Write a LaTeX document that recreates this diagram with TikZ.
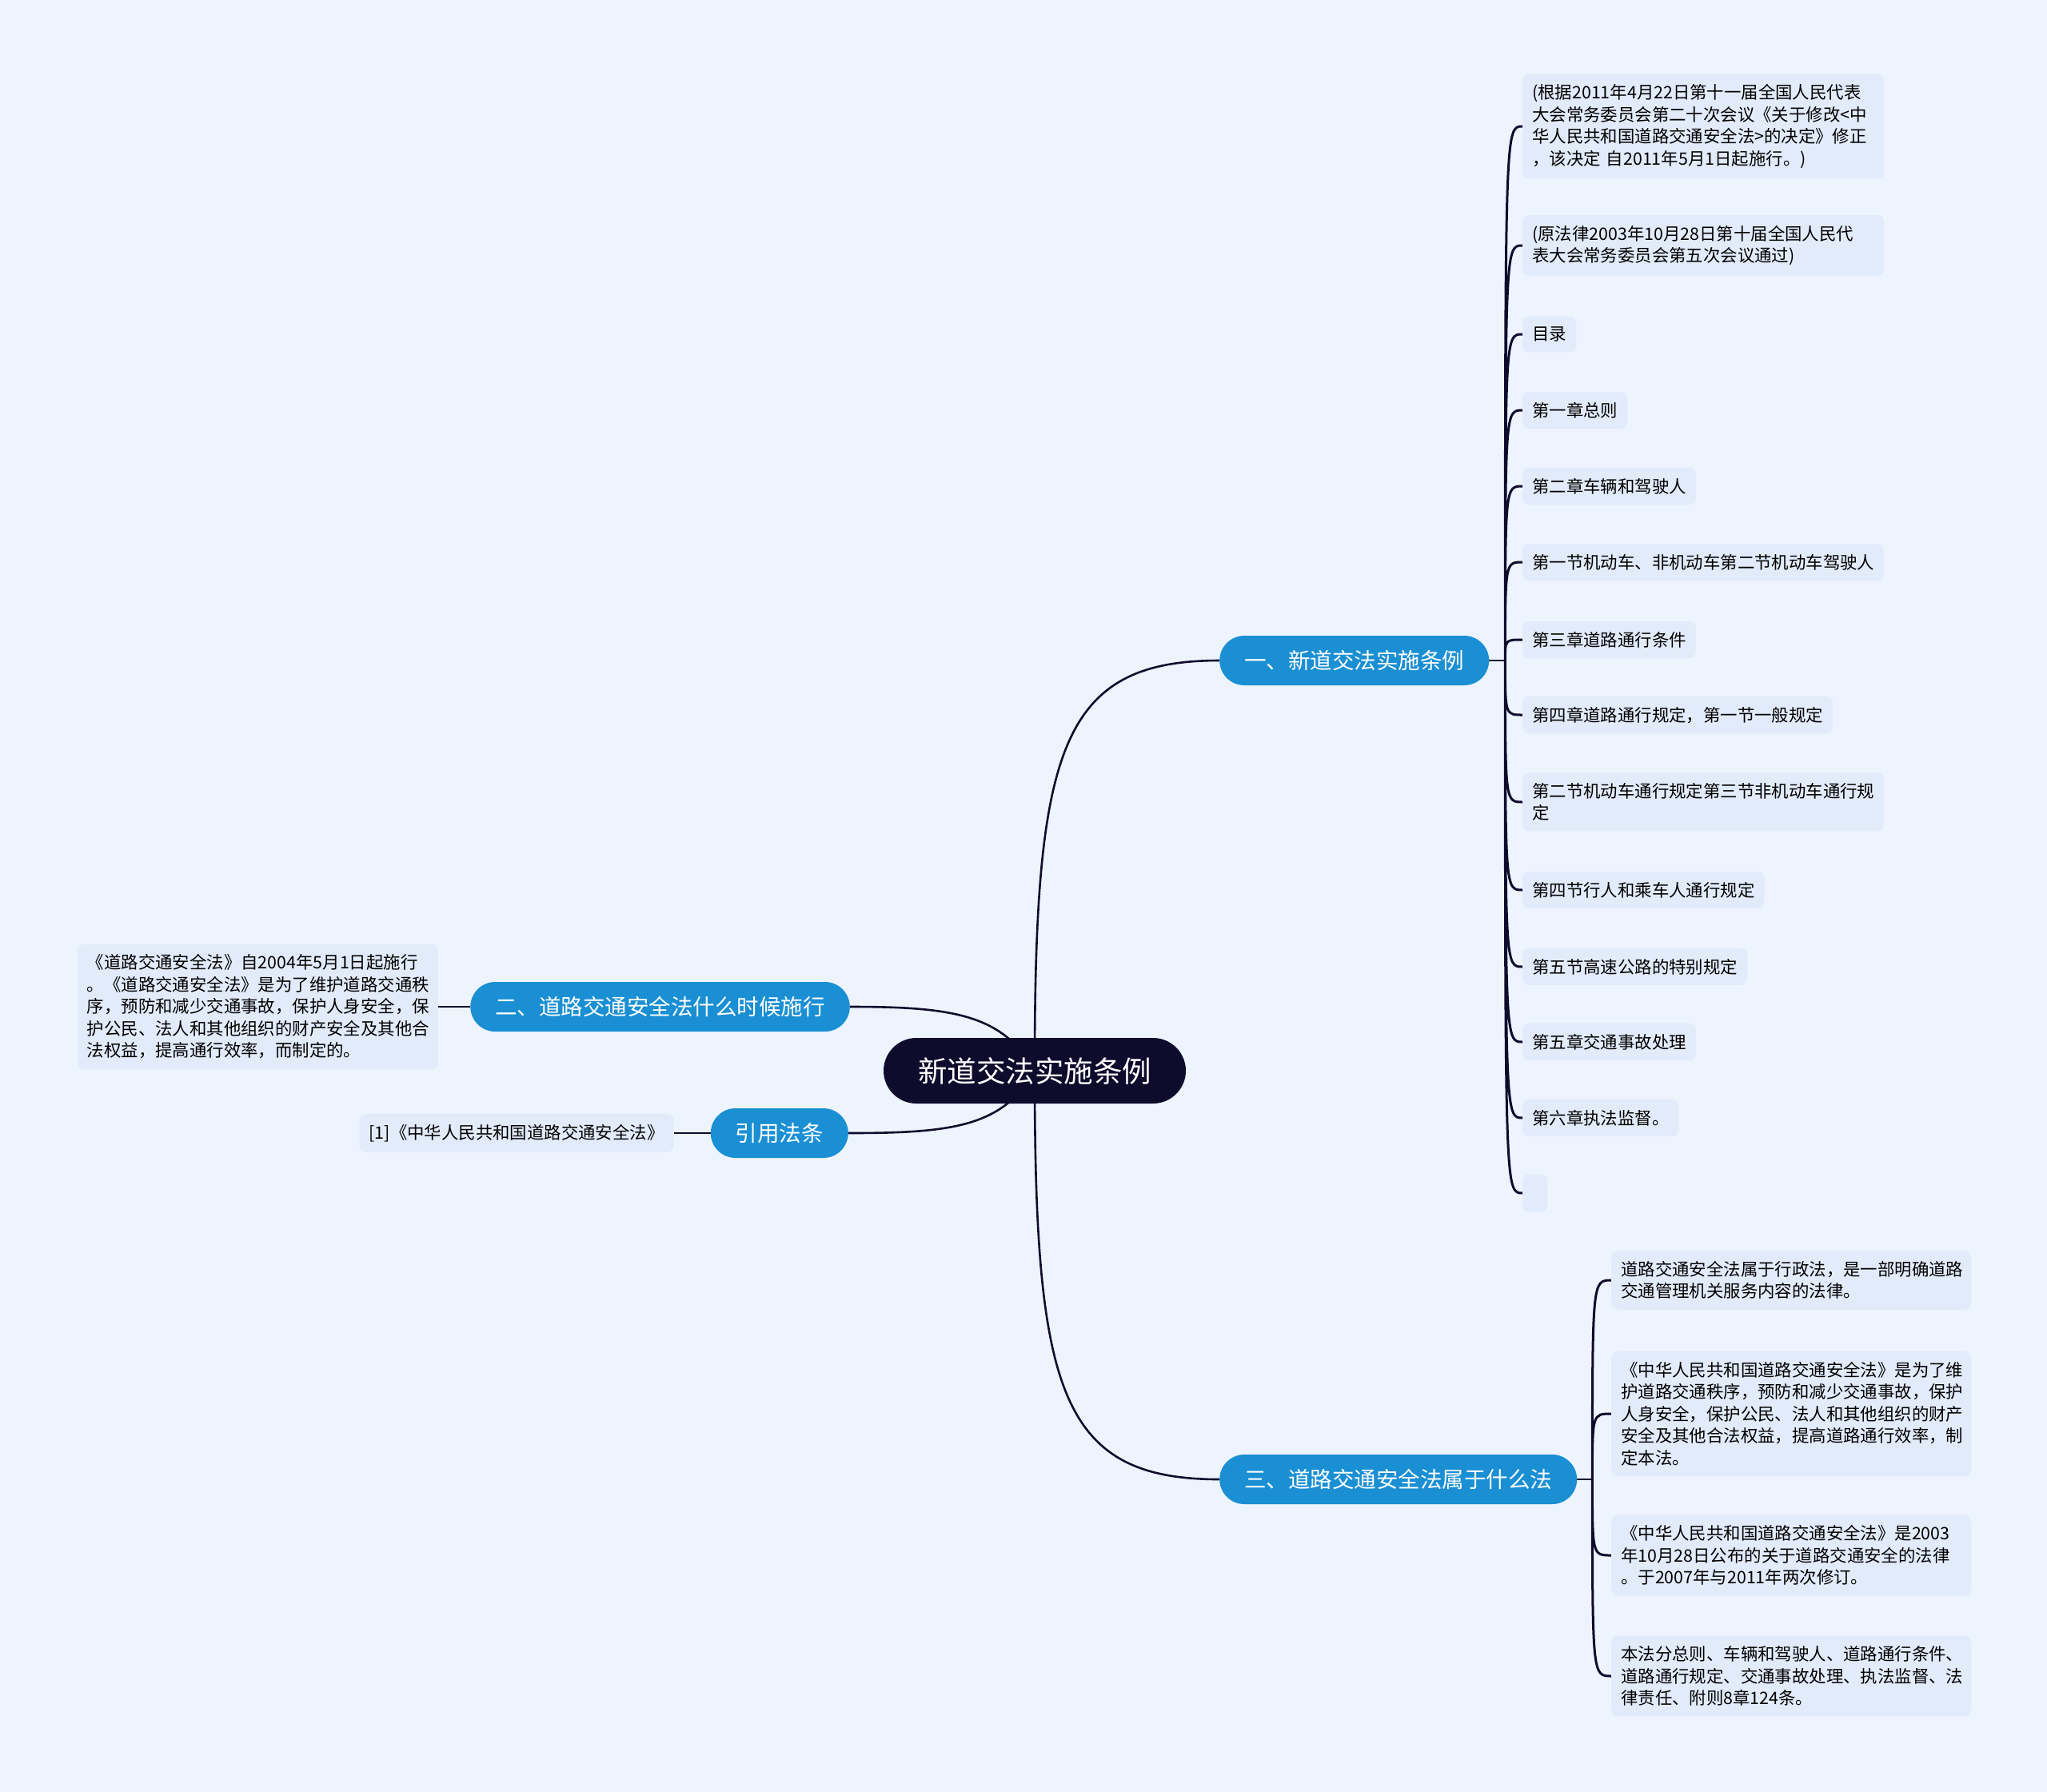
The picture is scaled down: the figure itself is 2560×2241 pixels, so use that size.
\documentclass[tikz,border=0pt]{standalone}
\usepackage{fontspec}
\setmainfont{Noto Sans CJK SC}
\usepackage{tikz}
\usetikzlibrary{positioning,calc}
\definecolor{pagebg}{HTML}{EEF4FE}
\definecolor{leafbg}{HTML}{E2EBFA}
\definecolor{topicblue}{HTML}{1A8FD3}
\definecolor{rootnavy}{HTML}{0E0B2C}
\pgfdeclarelayer{bg}
\pgfsetlayers{bg,main}

\begin{document}
\begin{tikzpicture}[x=1pt,y=1pt,
  root/.style={fill=rootnavy,text=white,rounded corners=41pt,inner xsep=43pt,minimum height=82pt,font=\fontsize{36.5}{40}\selectfont},
  br/.style={fill=topicblue,text=white,rounded corners=31pt,inner xsep=31pt,minimum height=62pt,font=\fontsize{27.5}{30}\selectfont},
  leaf/.style={fill=leafbg,rounded corners=8pt,inner xsep=12pt,inner ysep=13pt,align=left,font=\fontsize{21.4}{27.5}\selectfont},
  wide/.style={leaf,text width=428pt},
  ln/.style={draw=rootnavy,line width=2.6pt},
  hook/.style={draw=rootnavy,line width=3pt,to path={.. controls (\tikztostart|-\tikztotarget) .. (\tikztotarget)}}]
  \useasboundingbox (0,0) rectangle (2560,-2241);
  % Mittelpunkt und Hauptaeste
  \node[root] (ctr) at (1294,-1339) {新道交法实施条例};
  \node[br,anchor=west] (b1) at (1525,-826) {一、新道交法实施条例};
  \node[br,anchor=west] (b3) at (1525,-1850) {三、道路交通安全法属于什么法};
  \node[br,anchor=east] (b2) at (1063,-1259) {二、道路交通安全法什么时候施行};
  \node[br,anchor=east] (b4) at (1061,-1417) {引用法条};
  % linke Blaetter
  \node[wide,text width=427pt,left=40pt of b2] (d2) {《道路交通安全法》自2004年5月1日起施行\\。《道路交通安全法》是为了维护道路交通秩\\序，预防和减少交通事故，保护人身安全，保\\护公民、法人和其他组织的财产安全及其他合\\法权益，提高通行效率，而制定的。};
  \node[leaf,left=46pt of b4] (d4) {[1]《中华人民共和国道路交通安全法》};
  % Blaetter zu Ast eins
  \node[wide,anchor=west] (l1) at (1904,-158) {(根据2011年4月22日第十一届全国人民代表\\大会常务委员会第二十次会议《关于修改<中\\华人民共和国道路交通安全法>的决定》修正\\，该决定 自2011年5月1日起施行。)};
  \node[wide,anchor=west] (l2) at (1904,-307) {(原法律2003年10月28日第十届全国人民代\\表大会常务委员会第五次会议通过)};
  \node[leaf,anchor=west] (l3) at (1904,-418) {目录};
  \node[leaf,anchor=west] (l4) at (1904,-513) {第一章总则};
  \node[leaf,anchor=west] (l5) at (1904,-608) {第二章车辆和驾驶人};
  \node[leaf,anchor=west] (l6) at (1904,-703) {第一节机动车、非机动车第二节机动车驾驶人};
  \node[leaf,anchor=west] (l7) at (1904,-800) {第三章道路通行条件};
  \node[leaf,anchor=west] (l8) at (1904,-894) {第四章道路通行规定，第一节一般规定};
  \node[wide,anchor=west] (l9) at (1904,-1003) {第二节机动车通行规定第三节非机动车通行规\\定};
  \node[leaf,anchor=west] (l10) at (1904,-1113) {第四节行人和乘车人通行规定};
  \node[leaf,anchor=west] (l11) at (1904,-1209) {第五节高速公路的特别规定};
  \node[leaf,anchor=west] (l12) at (1904,-1303) {第五章交通事故处理};
  \node[leaf,anchor=west] (l13) at (1904,-1398) {第六章执法监督。};
  \node[leaf,anchor=west,minimum width=31pt,minimum height=47pt] (l14) at (1904,-1492) {};
  % Blaetter zu Ast drei
  \node[wide,text width=426pt,anchor=west] (m1) at (2015,-1601) {道路交通安全法属于行政法，是一部明确道路\\交通管理机关服务内容的法律。};
  \node[wide,text width=426pt,anchor=west] (m2) at (2015,-1768) {《中华人民共和国道路交通安全法》是为了维\\护道路交通秩序，预防和减少交通事故，保护\\人身安全，保护公民、法人和其他组织的财产\\安全及其他合法权益，提高道路通行效率，制\\定本法。};
  \node[wide,text width=426pt,anchor=west] (m3) at (2015,-1945) {《中华人民共和国道路交通安全法》是2003\\年10月28日公布的关于道路交通安全的法律\\。于2007年与2011年两次修订。};
  \node[wide,text width=426pt,anchor=west] (m4) at (2015,-2096) {本法分总则、车辆和驾驶人、道路通行条件、\\道路通行规定、交通事故处理、执法监督、法\\律责任、附则8章124条。};
  \coordinate[right=20pt of b1.east] (j1);
  \coordinate[right=19pt of b3.east] (j3);
  \begin{pgfonlayer}{bg}
    \fill[pagebg] (0,0) rectangle (2560,-2241);
    \draw[ln] (ctr.center) .. controls +(0,400) and +(-200,0) .. (b1.west);
    \draw[ln] (ctr.center) .. controls +(0,-400) and +(-200,0) .. (b3.west);
    \draw[ln] (ctr.center) .. controls +(-40,70) and +(130,0) .. (b2.east);
    \draw[ln] (ctr.center) .. controls +(-40,-70) and +(130,0) .. (b4.east);
    \draw[ln] (b2) -- (d2); \draw[ln] (b4) -- (d4);
    \draw[ln] (b1.east) -- (j1); \draw[ln] (b3.east) -- (j3);
    \draw[hook] (j1) to (l1.west) (j1) to (l2.west) (j1) to (l3.west) (j1) to (l4.west) (j1) to (l5.west)
      (j1) to (l6.west) (j1) to (l7.west) (j1) to (l8.west) (j1) to (l9.west) (j1) to (l10.west)
      (j1) to (l11.west) (j1) to (l12.west) (j1) to (l13.west) (j1) to (l14.west);
    \draw[hook] (j3) to (m1.west) (j3) to (m2.west) (j3) to (m3.west) (j3) to (m4.west);
  \end{pgfonlayer}
\end{tikzpicture}
\end{document}
